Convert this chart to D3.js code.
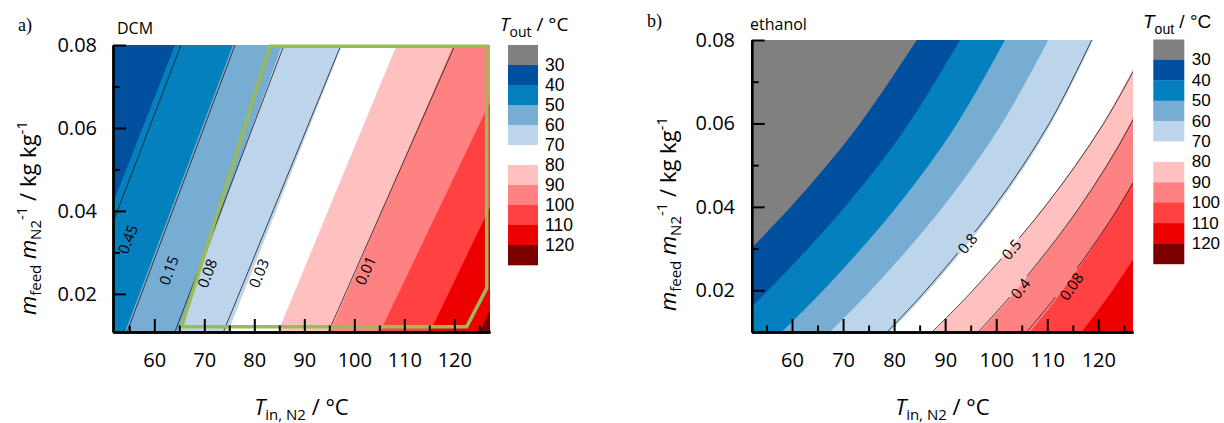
<!DOCTYPE html>
<html><head><meta charset="utf-8">
<script src="https://cdn.jsdelivr.net/npm/d3@7"></script>
<style>
body{margin:0;background:#fff;}
svg{display:block;}
text{font-family:"Open Sans",sans-serif;fill:#000;}
</style></head><body>
<svg id="chart" width="1224" height="423"></svg>
<script>
// ---------------- data ----------------
const thresholds = [30,40,50,60,70,80,90,100,110,120];
const bandColors = ["#808080","#014f9f","#0580be","#78add3","#bdd5ea","#ffffff","#ffc0c0","#ff8282","#ff4141","#ec0000","#7a0000"];
const legendLabels = ["30","40","50","60","70","80","90","100","110","120"];
const yTicks = [0.02,0.04,0.06,0.08];
const yMinor = [0.03,0.05,0.07];
const xTicks = [60,70,80,90,100,110,120];
const xMinor = [55,65,75,85,95,105,115,125];

// panel a: DCM  (boundaries: T_out isotherms, x at y-levels)
const dcmYLevels = [0.01,0.08];
const dcmBoundT = [40,50,60,70,80,90,100,110,120];
const dcmBoundX = [[41.38,64.14],[53.9,75.74],[64.5,85.54],[74.48,97.54],[84.46,108.48],[94.86,119.8],[104.82,132.6],[114.82,142.7],[124.84,150.9]];
const dcmLineLabels = ["0.45","0.15","0.08","0.03","0.01"];
const dcmLineX = [[43.1,65.34],[54.3,76.14],[63.88,85.94],[73.54,97.34],[94.52,120.14]];
const dcmLabelX = [54.6,62.8,70.48,80.8,102.14];
const dcmLabelY = [0.0332,0.0257,0.025,0.025,0.0257];
const dcmRegionX = [83.14,126.48,126.48,122.48,65.48];
const dcmRegionY = [0.0797,0.0797,0.02134,0.01208,0.01208];

// panel b: ethanol
const ethYLevels = [0.01,0.02,0.04,0.06,0.08];
const ethBoundT = [30,40,50,60,70,80,90,100,110];
const ethBoundX = [
  [34.57,43.6,59.75,73.34,84.43],
  [46.86,55.34,70.4,82.9,92.91],
  [57.98,66.13,80.53,92.38,101.72],
  [67.44,75.46,89.58,101.14,110.21],
  [79.2,86.8,100.06,110.79,119.02],
  [87.56,95.49,109.42,120.82,129.72],
  [96.83,103.98,116.38,126.23,133.58],
  [106.62,113.05,124.0,132.4,138.3],
  [116.75,122.8,132.99,140.65,145.78]
];
const ethLineLabels = ["0.8","0.5","0.4","0.08"];
const ethLineX = [
  [78.61,86.25,99.59,110.4,118.7],
  [87.42,95.44,109.52,121.06,130.11],
  [96.49,103.76,116.38,126.45,134.0],
  [105.97,112.64,124.02,132.87,139.22]
];
const ethLabelX = [94.28,102.9,104.66,114.65];
const ethLabelY = [0.0313,0.0299,0.0205,0.021];

// ---------------- drawing ----------------
const W = 1224, H = 423;
const svg = d3.select("#chart");
const defs = svg.append("defs");

function angleAt(xs, levels, ly, x, y){
  let j = 0;
  while (j < levels.length - 2 && ly > levels[j+1]) j++;
  const dx = x(xs[j+1]) - x(xs[j]);
  const dy = y(levels[j+1]) - y(levels[j]);
  return Math.atan2(dy, dx) * 180 / Math.PI;
}

function panel(cfg, id){
  const x = d3.scaleLinear().domain(cfg.xDom).range([cfg.left, cfg.right]);
  const y = d3.scaleLinear().domain(cfg.yDom).range([cfg.bottom, cfg.top]);
  defs.append("clipPath").attr("id","clip"+id).append("rect")
    .attr("x",cfg.left).attr("y",cfg.top)
    .attr("width",cfg.right-cfg.left).attr("height",cfg.bottom-cfg.top);
  const g = svg.append("g").attr("clip-path",`url(#clip${id})`);
  const line = d3.line().x(d=>x(d[0])).y(d=>y(d[1])).curve(d3.curveCatmullRom);

  g.append("rect").attr("x",cfg.left).attr("y",cfg.top)
    .attr("width",cfg.right-cfg.left).attr("height",cfg.bottom-cfg.top)
    .attr("fill",bandColors[thresholds.indexOf(cfg.boundT[0])]);
  const lv = cfg.levels;
  const farX = cfg.right + 300;
  cfg.boundT.forEach((T,i)=>{
    const pts = lv.map((yy,j)=>[cfg.boundX[i][j], yy]);
    const d = line(pts) + `L${farX},${y(lv[lv.length-1])}L${farX},${y(lv[0])}Z`;
    g.append("path").attr("d",d).attr("fill",bandColors[thresholds.indexOf(T)+1]);
  });

  // contour lines with gaps at labels
  const mask = defs.append("mask").attr("id","mask"+id).attr("maskUnits","userSpaceOnUse")
    .attr("x",0).attr("y",0).attr("width",W).attr("height",H);
  mask.append("rect").attr("width",W).attr("height",H).attr("fill","#fff");
  const lg = g.append("g").attr("mask",`url(#mask${id})`);
  cfg.lineX.forEach(xs=>{
    lg.append("path").attr("d", line(lv.map((yy,j)=>[xs[j],yy])))
      .attr("fill","none").attr("stroke","#1a1a1a").attr("stroke-width",0.8);
  });
  cfg.lineLabels.forEach((lab,i)=>{
    const lx = cfg.labelX[i], ly = cfg.labelY[i];
    const ang = angleAt(cfg.lineX[i], lv, ly, x, y);
    const tr = `translate(${x(lx)},${y(ly)}) rotate(${ang})`;
    const t = svg.append("text").attr("transform",tr)
      .attr("text-anchor","middle").attr("dominant-baseline","central")
      .style("font-size","15px").text(lab);
    const w = t.node().getComputedTextLength();
    mask.append("rect").attr("x",-w/2-3).attr("y",-7.5).attr("width",w+6).attr("height",15)
      .attr("transform",tr).attr("fill","#000");
  });

  if (cfg.regionX){
    const rl = d3.line().x(d=>x(d[0])).y(d=>y(d[1]));
    svg.append("path").attr("d", rl(cfg.regionX.map((v,i)=>[v,cfg.regionY[i]])) + "Z")
      .attr("fill","none").attr("stroke","#9bbb59").attr("stroke-width",3.5)
      .attr("stroke-linejoin","miter");
  }

  // axes
  const styleAxis = sel => {
    sel.attr("font-family",null).attr("font-size",null);
    sel.selectAll("text").style("font-size","20px").style("font-family","'Open Sans',sans-serif").attr("fill","#000");
    sel.selectAll("line").attr("stroke","#000").attr("stroke-width",2);
    sel.selectAll(".domain").attr("stroke","#000").attr("stroke-width",2.4);
  };
  svg.append("g").attr("transform",`translate(0,${cfg.bottom})`)
    .call(d3.axisBottom(x).tickValues(xMinor).tickSize(-6.5).tickSizeOuter(0).tickFormat(""))
    .call(styleAxis);
  svg.append("g").attr("transform",`translate(0,${cfg.bottom})`)
    .call(d3.axisBottom(x).tickValues(xTicks).tickSize(-13).tickSizeOuter(0).tickPadding(20.5).tickFormat(d3.format("d")))
    .call(styleAxis);
  svg.append("g").attr("transform",`translate(${cfg.left},0)`)
    .call(d3.axisLeft(y).tickValues(yMinor).tickSize(-7).tickSizeOuter(0).tickFormat(""))
    .call(styleAxis);
  svg.append("g").attr("transform",`translate(${cfg.left},0)`)
    .call(d3.axisLeft(y).tickValues(yTicks).tickSize(-13).tickSizeOuter(0).tickPadding(cfg.yPad).tickFormat(d3.format(".2f")))
    .call(styleAxis);

  // x title
  const xt = svg.append("text").attr("x",(cfg.left+cfg.right)/2).attr("y",cfg.xTitleY)
    .attr("text-anchor","middle").style("font-size","22px");
  xt.append("tspan").style("font-style","italic").text("T");
  xt.append("tspan").style("font-size","15px").attr("dy",5).text("in, N2");
  xt.append("tspan").attr("dy",-5).text(" / °C");

  // y title
  const yt = svg.append("text").attr("transform",`translate(${cfg.yTitleX},${cfg.yTitleY}) rotate(-90)`)
    .attr("text-anchor","middle").style("font-size","22px");
  yt.append("tspan").style("font-style","italic").text("m");
  yt.append("tspan").style("font-size","15px").attr("dy",5).text("feed");
  yt.append("tspan").style("font-style","italic").attr("dy",-5).text(" m");
  yt.append("tspan").style("font-size","15px").attr("dy",5).text("N2");
  yt.append("tspan").style("font-size","15px").attr("dy",-14).text("-1");
  yt.append("tspan").attr("dy",9).text(" / kg kg");
  yt.append("tspan").style("font-size","15px").attr("dy",-9).text("-1");
}

function legend(L){
  L.colors.forEach((c,k)=>{
    svg.append("rect").attr("x",L.x).attr("y",L.top+k*L.h).attr("width",L.w).attr("height",L.h+0.3).attr("fill",c);
  });
  L.labels.forEach((lab,k)=>{
    svg.append("text").attr("x",L.labelX).attr("y",L.top+(k+1)*L.h)
      .attr("dominant-baseline","central")
      .style("font-family",L.font).style("font-size",L.fs+"px").text(lab);
  });
  const t = svg.append("text").attr("x",L.titleX).attr("y",L.titleY)
    .style("font-family",L.titleFont).style("font-size","19px");
  t.append("tspan").style("font-style","italic").text("T");
  t.append("tspan").style("font-size","14px").attr("dy",6).text("out");
  t.append("tspan").attr("dy",-6).text(" / °C");
}

panel({left:113,right:490,top:45,bottom:332,xDom:[51.74,127.14],yDom:[0.0108,0.08],
  levels:dcmYLevels,boundT:dcmBoundT,boundX:dcmBoundX,lineX:dcmLineX,lineLabels:dcmLineLabels,
  labelX:dcmLabelX,labelY:dcmLabelY,regionX:dcmRegionX,regionY:dcmRegionY,
  yPad:16,xTitleY:415,yTitleX:36,yTitleY:218},"a");
panel({left:751.7,right:1133,top:40,bottom:332,xDom:[52.1,126.8],yDom:[0.01,0.08],
  levels:ethYLevels,boundT:ethBoundT,boundX:ethBoundX,lineX:ethLineX,lineLabels:ethLineLabels,
  labelX:ethLabelX,labelY:ethLabelY,
  yPad:16.7,xTitleY:415,yTitleX:676,yTitleY:214},"b");

legend({x:508,top:45,w:30,h:20,colors:bandColors,labels:legendLabels,labelX:545,
  font:"'Liberation Sans',Arial,sans-serif",fs:17.5,titleFont:"'Open Sans',sans-serif",titleX:500,titleY:31});
legend({x:1153.3,top:39.5,w:31,h:20.4,colors:bandColors,labels:legendLabels,labelX:1191.7,
  font:"'Liberation Sans',Arial,sans-serif",fs:17,titleFont:"'Liberation Sans',Arial,sans-serif",titleX:1143,titleY:28});

svg.append("text").attr("x",18).attr("y",31).style("font-family","'Liberation Serif',serif").style("font-size","18px").text("a)");
svg.append("text").attr("x",117).attr("y",34).style("font-size","16px").text("DCM");
svg.append("text").attr("x",647).attr("y",27).style("font-family","'Liberation Serif',serif").style("font-size","18px").text("b)");
svg.append("text").attr("x",750).attr("y",30).style("font-size","16px").text("ethanol");
</script>
</body></html>
